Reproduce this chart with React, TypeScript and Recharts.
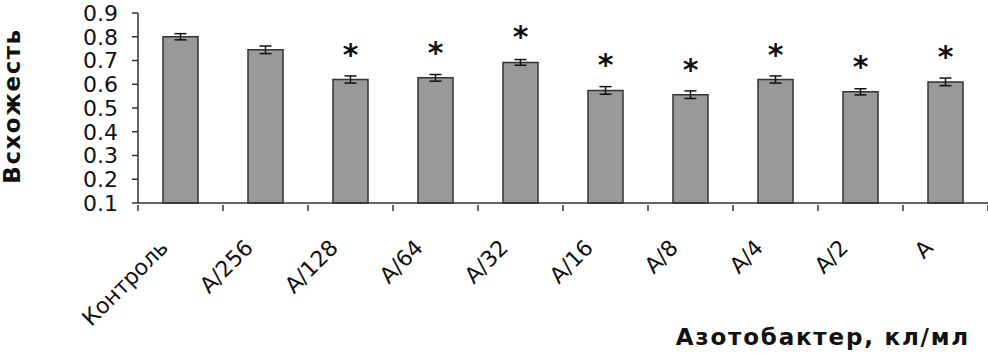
import { BarChart, Bar, XAxis, YAxis, ErrorBar, LabelList, Label } from 'recharts';

const categories = ['Контроль', 'A/256', 'A/128', 'A/64', 'A/32', 'A/16', 'A/8', 'A/4', 'A/2', 'A'];
const values = [0.8, 0.745, 0.62, 0.627, 0.692, 0.574, 0.556, 0.62, 0.568, 0.61];
const errors = [0.013, 0.016, 0.015, 0.014, 0.012, 0.016, 0.016, 0.015, 0.013, 0.016];
const marks = ['', '', '*', '*', '*', '*', '*', '*', '*', '*'];
const yTicks = [0.1, 0.2, 0.3, 0.4, 0.5, 0.6, 0.7, 0.8, 0.9];

const data = categories.map((name, i) => ({
    name,
    value: values[i],
    err: errors[i],
    mark: marks[i],
}));

const FONT = '"DejaVu Sans", Verdana, sans-serif';
const AXIS = '#333';

const XTick = (props: any) => {
    const { x, y, payload, index } = props;
    const half = payload.offset || 0;
    const lx = x - 11;
    const ly = y + 44;
    return (
        <g>
            <line x1={x - half} y1={y} x2={x - half} y2={y + 6} stroke={AXIS} strokeWidth={1.5} />
            {index === categories.length - 1 && (
                <line x1={x + half} y1={y} x2={x + half} y2={y + 6} stroke={AXIS} strokeWidth={1.5} />
            )}
            <text
                x={lx}
                y={ly}
                transform={`rotate(-45, ${lx}, ${ly})`}
                textAnchor="end"
                fontSize={22}
                fontFamily={FONT}
                fill="#111"
            >
                {payload.value}
            </text>
        </g>
    );
};

const Star = (props: any) => {
    const { x, y, width, value } = props;
    if (!value) return null;
    return (
        <text
            x={x + width / 2}
            y={y - 15}
            textAnchor="middle"
            fontSize={30}
            fontWeight="bold"
            fontFamily={FONT}
            fill="#111"
        >
            {value}
        </text>
    );
};

export default function App() {
    return (
        <div style={{ position: 'absolute', left: 0, top: 0, background: '#fff' }}>
            <BarChart
                width={988}
                height={353}
                data={data}
                margin={{ top: 13, right: 0, left: 0, bottom: 0 }}
                barSize={35}
            >
                <XAxis
                    dataKey="name"
                    interval={0}
                    height={150}
                    tickSize={0}
                    tickLine={false}
                    tick={<XTick />}
                    axisLine={{ stroke: AXIS, strokeWidth: 1.5 }}
                >
                    <Label
                        content={() => (
                            <text
                                x={970}
                                y={345}
                                textAnchor="end"
                                fontSize={23}
                                fontWeight="bold"
                                letterSpacing={1.8}
                                fontFamily={FONT}
                                fill="#111"
                            >
                                Азотобактер, кл/мл
                            </text>
                        )}
                    />
                </XAxis>
                <YAxis
                    width={138}
                    domain={[0.1, 0.9]}
                    ticks={yTicks}
                    interval={0}
                    tickFormatter={(v) => v.toFixed(1)}
                    tick={{ fontSize: 22, fontFamily: FONT, fill: '#111' }}
                    tickSize={6}
                    tickMargin={14}
                    tickLine={{ stroke: AXIS, strokeWidth: 1.5 }}
                    axisLine={{ stroke: AXIS, strokeWidth: 1.5 }}
                >
                    <Label
                        content={() => (
                            <text
                                x={20}
                                y={106}
                                transform="rotate(-90, 20, 106)"
                                textAnchor="middle"
                                fontSize={23}
                                fontWeight="bold"
                                letterSpacing={1.5}
                                fontFamily={FONT}
                                fill="#111"
                            >
                                Всхожесть
                            </text>
                        )}
                    />
                </YAxis>
                <Bar dataKey="value" fill="#999" stroke="#333" strokeWidth={1.5} isAnimationActive={false}>
                    <ErrorBar dataKey="err" width={6} stroke="#111" strokeWidth={1.5} />
                    <LabelList dataKey="mark" content={<Star />} />
                </Bar>
            </BarChart>
        </div>
    );
}
